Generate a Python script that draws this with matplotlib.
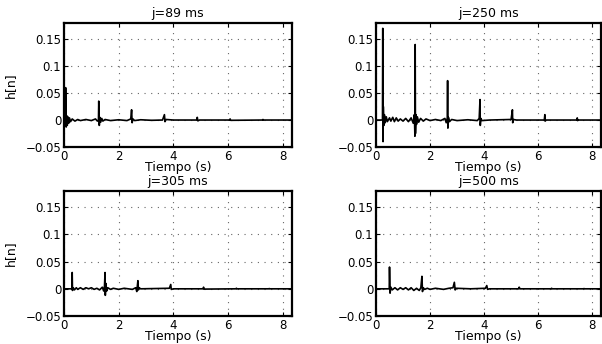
import matplotlib
matplotlib.use('Agg')
import matplotlib.pyplot as plt

plt.rcParams['font.family'] = ['DejaVu Sans']

titles = ['j=89 ms', 'j=250 ms', 'j=305 ms', 'j=500 ms']
yticks = [-0.05, 0, 0.05, 0.1, 0.15]
ytick_labels = ['\u22120.05', '0', '0.05', '0.1', '0.15']
xticks = [0, 2, 4, 6, 8]

# traces: time (s) and h[n]
t_89 = [0, 0.05, 0.06, 0.08, 0.10, 0.12, 0.14, 0.17, 0.20, 0.24, 0.30, 0.40, 0.50, 0.60,
        0.80, 1.00, 1.15, 1.22, 1.26, 1.27, 1.29, 1.31, 1.34, 1.38, 1.42, 1.50, 1.70, 2.00,
        2.30, 2.44, 2.47, 2.49, 2.52, 2.58, 2.80, 3.20, 3.60, 3.67, 3.69, 3.73, 4.00, 4.85,
        4.87, 4.89, 4.95, 6.05, 6.07, 6.09, 7.25, 7.27, 7.29, 8.33]
h_89 = [0, 0, 0.06, -0.013, 0.008, -0.01, 0.006, -0.006, 0.004, -0.003, 0.002, -0.002, 0.001, -0.001,
        0.001, -0.001, 0.002, -0.002, 0.0, 0.035, -0.01, 0.005, -0.004, 0.003, -0.002, 0.001, -0.001, 0.0005,
        -0.001, 0.002, 0.019, -0.005, 0.002, -0.001, 0.0005, -0.0005, 0.0, 0.01, -0.003, 0.001, 0, 0,
        0.005, -0.0015, 0, 0, 0.002, -0.0005, 0, 0.001, 0, 0]

t_250 = [0, 0.24, 0.25, 0.26, 0.27, 0.29, 0.31, 0.34, 0.38, 0.42, 0.50, 0.55, 0.62, 0.68, 0.75,
         0.82, 0.90, 1.00, 1.10, 1.20, 1.30, 1.38, 1.42, 1.44, 1.45, 1.46, 1.48, 1.50, 1.53, 1.58,
         1.65, 1.75, 1.85, 2.00, 2.20, 2.40, 2.55, 2.60, 2.64, 2.65, 2.66, 2.68, 2.72, 2.80, 3.00,
         3.40, 3.75, 3.82, 3.85, 3.86, 3.88, 3.92, 4.20, 5.00, 5.05, 5.06, 5.08, 5.20, 6.23, 6.25,
         6.26, 6.30, 7.43, 7.45, 7.46, 7.50, 8.33]
h_250 = [0, 0, 0.17, -0.04, 0.025, -0.01, 0.01, -0.005, 0.006, -0.003, 0.004, -0.002, 0.005, -0.003, 0.004,
         -0.002, 0.002, -0.002, 0.003, -0.003, 0.004, -0.006, 0.01, -0.03, 0.14, -0.025, 0.01, -0.008, 0.006, -0.004,
         0.003, -0.002, 0.002, -0.001, 0.001, -0.001, 0.003, -0.005, 0.004, 0.073, -0.015, 0.005, -0.003, 0.001, -0.001,
         0.0005, -0.001, 0.003, 0.038, -0.01, 0.003, -0.001, 0, 0.001, 0.019, -0.005, 0.001, 0, 0, 0.01,
         -0.002, 0, 0, 0.004, -0.001, 0, 0]

t_305 = [0, 0.29, 0.30, 0.31, 0.34, 0.38, 0.45, 0.50, 0.60, 0.70, 0.80, 0.90, 1.00, 1.10, 1.20,
         1.30, 1.40, 1.45, 1.48, 1.50, 1.51, 1.53, 1.56, 1.60, 1.70, 1.80, 2.00, 2.20, 2.50, 2.62,
         2.66, 2.70, 2.72, 2.75, 2.80, 3.85, 3.90, 3.92, 4.00, 5.08, 5.10, 5.12, 6.28, 6.30, 6.32,
         7.48, 7.50, 7.52, 8.33]
h_305 = [0, 0, 0.03, -0.003, 0.002, -0.002, 0.002, -0.001, 0.002, -0.001, 0.002, 0.0, 0.002, -0.001, 0.001,
         -0.002, 0.003, -0.004, 0.005, 0.03, -0.012, 0.01, -0.004, 0.002, -0.001, 0.001, -0.001, 0.001, -0.001, 0.002,
         -0.005, 0.015, -0.002, 0.002, 0, 0.001, 0.008, -0.001, 0, 0, 0.003, -0.0005, 0, 0.001, 0,
         0, 0.0005, 0, 0]

t_500 = [0, 0.49, 0.50, 0.52, 0.55, 0.60, 0.70, 0.80, 0.90, 1.00, 1.10, 1.20, 1.30, 1.40, 1.50,
         1.60, 1.66, 1.70, 1.72, 1.75, 1.80, 1.90, 2.00, 2.20, 2.50, 2.70, 2.85, 2.90, 2.93, 2.97,
         3.50, 4.05, 4.10, 4.13, 4.20, 5.28, 5.30, 5.33, 6.48, 6.50, 6.52, 7.68, 7.70, 7.72, 8.33]
h_500 = [0, 0, 0.04, -0.008, 0.003, -0.002, 0.002, -0.002, 0.002, -0.001, 0.002, -0.002, 0.002, -0.003, 0.001,
         -0.003, 0.002, 0.023, -0.005, 0.002, -0.001, 0.001, -0.001, 0.001, -0.001, 0.001, 0.002, 0.012, -0.002, 0.001,
         0, 0.001, 0.006, -0.001, 0, 0, 0.003, 0, 0, 0.001, 0, 0, 0.0005, 0, 0]

traces = [(t_89, h_89), (t_250, h_250), (t_305, h_305), (t_500, h_500)]

fig = plt.figure(figsize=(6.02, 3.44), dpi=100)
positions = [
    [0.1063, 0.5727, 0.3787, 0.3605],
    [0.6246, 0.5727, 0.3738, 0.3605],
    [0.1063, 0.0814, 0.3787, 0.3634],
    [0.6246, 0.0814, 0.3738, 0.3634],
]

for i, (pos, (t, h)) in enumerate(zip(positions, traces)):
    ax = fig.add_axes(pos)
    ax.plot(t, h, color='black', linewidth=1.2)
    ax.set_xlim(0, 8.33)
    ax.set_ylim(-0.05, 0.18)
    ax.set_xticks(xticks)
    ax.set_yticks(yticks)
    ax.set_yticklabels(ytick_labels)
    ax.grid(True, linestyle=(0, (1, 5)), color='0.4', linewidth=0.8)
    ax.tick_params(direction='in', length=3, labelsize=8.5, top=True, right=True, pad=2)
    for s in ax.spines.values():
        s.set_linewidth(1.6)
    ax.set_title(titles[i], fontsize=9, pad=4)
    ax.set_xlabel('Tiempo (s)', fontsize=9, labelpad=-1)
    if i % 2 == 0:
        ax.set_ylabel('h[n]', fontsize=9, labelpad=6)

fig.savefig('out.png', dpi=100)
